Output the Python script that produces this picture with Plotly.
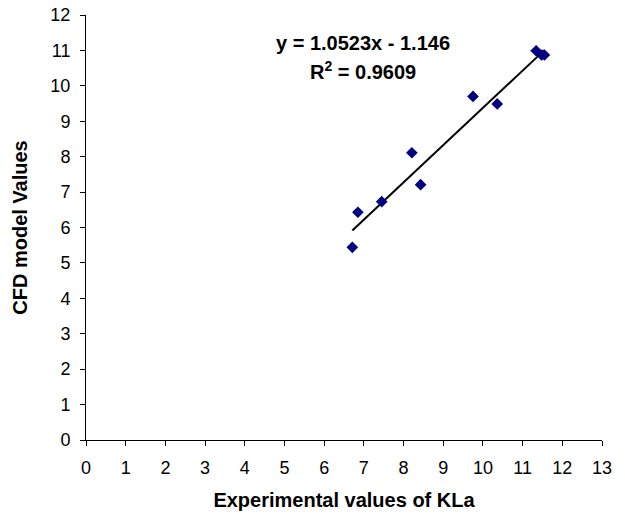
import plotly.graph_objects as go

exp_kla = [6.71, 6.85, 7.45, 8.21, 8.43, 9.75, 10.36, 11.34, 11.48, 11.55]
cfd_vals = [5.44, 6.43, 6.73, 8.11, 7.21, 9.70, 9.49, 10.99, 10.87, 10.87]
slope = 1.0523
intercept = -1.146
r2 = 0.9609
x_ticks = list(range(0, 14))
y_ticks = list(range(0, 13))

font = "Arial, Liberation Sans, sans-serif"

x0, x1 = min(exp_kla), max(exp_kla)
fig = go.Figure()
fig.add_trace(go.Scatter(x=[x0, x1], y=[slope * x0 + intercept, slope * x1 + intercept],
                         mode="lines", line=dict(color="black", width=2), hoverinfo="skip"))
fig.add_trace(go.Scatter(x=exp_kla, y=cfd_vals, mode="markers",
                         marker=dict(symbol="diamond", size=9, color="#000080")))

fig.add_annotation(x=6.97, y=11.2, xref="x", yref="y", showarrow=False,
                   text=f"<b>y = {slope}x - {abs(intercept)}</b>",
                   font=dict(family=font, size=20, color="black"))
fig.add_annotation(x=6.97, y=10.42, xref="x", yref="y", showarrow=False,
                   text=f"<b>R<sup>2</sup> = {r2}</b>",
                   font=dict(family=font, size=20, color="black"))

axis_common = dict(showgrid=False, zeroline=False, showline=True, linecolor="black",
                   linewidth=1, ticks="outside", ticklen=5, tickcolor="black",
                   ticklabelstandoff=6, automargin=False,
                   tickfont=dict(family=font, size=18, color="black"))
fig.update_xaxes(range=[0, 13], tickvals=x_ticks, **axis_common,
                 title=dict(text="<b>Experimental values of KLa</b>",
                            font=dict(family=font, size=20, color="black"), standoff=16))
fig.update_yaxes(range=[0, 12], tickvals=y_ticks, **axis_common,
                 title=dict(text="<b>CFD model Values</b>",
                            font=dict(family=font, size=20, color="black"), standoff=17))
fig.update_layout(width=625, height=514, showlegend=False,
                  plot_bgcolor="white", paper_bgcolor="white",
                  margin=dict(l=86, r=23, t=15, b=74))
fig.write_html("out.html", config={"displayModeBar": False},
               post_script="document.body.style.margin='0';document.body.style.overflow='hidden';")
